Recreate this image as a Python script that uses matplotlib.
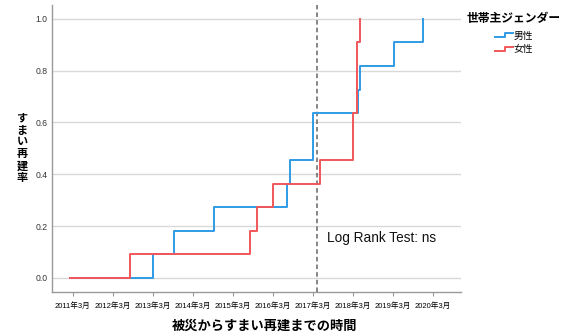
import numpy as np
import matplotlib
matplotlib.use('Agg')
import matplotlib.pyplot as plt
from matplotlib.lines import Line2D
from matplotlib.legend_handler import HandlerBase

# years since 2011-03 at each step, and cumulative rebuild rate
male_t = [-0.07, 2.0, 2.52, 3.52, 5.35, 5.43, 6.02, 7.13, 7.18, 8.03, 8.77]
male_s = [0, 0.0909, 0.1818, 0.2727, 0.3636, 0.4545, 0.6364, 0.7273, 0.8182, 0.9091, 1.0]
female_t = [-0.07, 1.43, 4.43, 4.6, 5.02, 6.18, 7.02, 7.1, 7.18]
female_s = [0, 0.0909, 0.1818, 0.2727, 0.3636, 0.4545, 0.6364, 0.9091, 1.0]

years = list(range(2011, 2021))
tick_labels = [f"{y}年3月" for y in years]
y_ticks = [0.0, 0.2, 0.4, 0.6, 0.8, 1.0]
cutoff_t = 6.1

BLUE = '#2f9be6'
RED = '#f2575a'
JP = ['Liberation Sans', 'Noto Sans CJK JP', 'DejaVu Sans']
plt.rcParams['font.family'] = JP


class StepHandler(HandlerBase):
    def create_artists(self, legend, orig_handle, xdescent, ydescent,
                       width, height, fontsize, trans):
        xs = np.array([0, 0.55, 0.55, 1.0]) * width - xdescent
        ys = np.array([0.2, 0.2, 0.8, 0.8]) * height - ydescent
        ln = Line2D(xs, ys, color=orig_handle.get_color(), lw=1.4)
        ln.set_transform(trans)
        return [ln]


fig = plt.figure(figsize=(5.68, 3.33), dpi=100)
ax = fig.add_axes([52 / 568, 1 - 292 / 333, (461 - 52) / 568, (292 - 5) / 333])

l_m, = ax.step(male_t, male_s, where='post', color=BLUE, lw=1.4, zorder=3)
l_f, = ax.step(female_t, female_s, where='post', color=RED, lw=1.4, zorder=4)
ax.axvline(cutoff_t, color='#666666', lw=1.1, ls=(0, (3, 2)), zorder=2)

ax.set_xlim(-0.52, 9.71)
ax.set_ylim(-0.055, 1.054)
ax.set_xticks(range(len(years)))
ax.set_xticklabels(tick_labels, fontsize=5.5)
ax.set_yticks(y_ticks)
ax.set_yticklabels([f"{v:.1f}" for v in y_ticks], fontsize=6.2, color='#333333')
ax.tick_params(axis='x', length=3, width=0.8, color='#999999', pad=4.5)
ax.tick_params(axis='y', length=0, pad=3)
ax.grid(axis='y', color='#d9d9d9', lw=1.0)
ax.set_axisbelow(True)
for s in ['top', 'right']:
    ax.spines[s].set_visible(False)
for s in ['left', 'bottom']:
    ax.spines[s].set_color('#999999')
    ax.spines[s].set_linewidth(1.0)

ax.text(6.35, 0.152, 'Log Rank Test: ns', fontsize=9.8, va='center', ha='left',
        color='#111111')

fig.text(265 / 568, 1 - 326.7 / 333, '被災からすまい再建までの時間',
         ha='center', va='center', fontsize=9.5, fontweight='bold')
fig.text(22 / 568, 1 - 148.5 / 333, '\n'.join('すまい再建率'),
         ha='center', va='center', fontsize=8, fontweight='bold', linespacing=1.22)

leg = fig.legend([l_m, l_f], ['男性', '女性'], handler_map={Line2D: StepHandler()},
                 title='世帯主ジェンダー', loc='upper center',
                 bbox_to_anchor=(514 / 568, 1 - 13 / 333), frameon=False,
                 fontsize=7, handlelength=1.85, handletextpad=0.1,
                 labelspacing=0.4, borderpad=0, borderaxespad=0,
                 title_fontproperties={'weight': 'bold', 'size': 8.5})
leg._legend_box.sep = 4

fig.savefig('out.png', dpi=100)
